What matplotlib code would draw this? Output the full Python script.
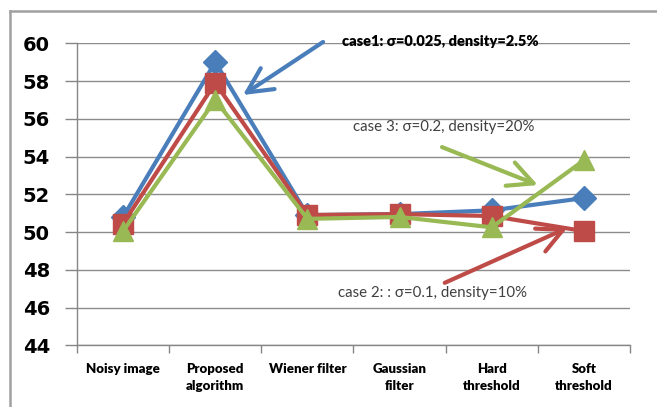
import matplotlib
matplotlib.use("Agg")
import matplotlib.pyplot as plt
from matplotlib.lines import Line2D

categories = ["Noisy image", "Proposed\nalgorithm", "Wiener filter", "Gaussian\nfilter",
              "Hard\nthreshold", "Soft\nthreshold"]
case1 = [50.8, 59.0, 50.9, 50.95, 51.15, 51.8]
case2 = [50.45, 57.9, 50.9, 50.95, 50.85, 50.05]
case3 = [50.05, 57.0, 50.7, 50.8, 50.25, 53.8]
yticks = [44, 46, 48, 50, 52, 54, 56, 58, 60]

BLUE = "#4A7EBB"
RED = "#BE4B48"
GREEN = "#98B954"

fig = plt.figure(figsize=(6.57, 4.07), dpi=100)
ax = fig.add_axes([77/657, 1-345.3/407, (630-77)/657, (345.3-43.3)/407])

x = list(range(len(categories)))
ax.plot(x, case1, color=BLUE, lw=3, marker="D", ms=12, zorder=3)
ax.plot(x, case2, color=RED, lw=3, marker="s", ms=14, zorder=4)
ax.plot(x, case3, color=GREEN, lw=3, marker="^", ms=14, zorder=5)

ax.set_xlim(-0.5, 5.5)
ax.set_ylim(44, 60)
ax.set_yticks(yticks)
ax.set_yticklabels([str(v) for v in yticks], fontsize=14, fontweight="bold",
                   family="DejaVu Sans")
ax.set_xticks(x)
ax.set_xticklabels(categories, fontsize=9.5, fontweight="heavy", family="Lato",
                   linespacing=1.45, va="top")
ax.set_xticks([i - 0.5 for i in range(len(categories) + 1)], minor=True)
ax.tick_params(axis="x", which="major", length=0, pad=13)
ax.tick_params(axis="x", which="minor", length=6, color="#868686", width=1)
ax.tick_params(axis="y", length=9, color="#868686", width=1, pad=10.5)
ax.grid(axis="y", color="#8c8c8c", lw=1)
ax.set_axisbelow(True)
for s in ["top", "right"]:
    ax.spines[s].set_visible(False)
for s in ["left", "bottom"]:
    ax.spines[s].set_color("#868686")
    ax.spines[s].set_linewidth(1)

def arrow(color, tail, tip):
    ax.annotate("", xy=tip, xytext=tail, xycoords="data", textcoords="data",
                arrowprops=dict(arrowstyle="->,head_length=0.9,head_width=0.45",
                                color=color, lw=3, mutation_scale=20,
                                shrinkA=0, shrinkB=0), zorder=6)

arrow(BLUE, (2.17, 60.07), (1.30, 57.26))
arrow(GREEN, (3.46, 54.5), (4.50, 52.49))
arrow(RED, (3.49, 47.31), (4.82, 50.22))

ax.text(2.375, 60.07, "case1: σ=0.025, density=2.5%", fontsize=10.5, fontweight="heavy",
        family="Lato", va="center", ha="left", color="black", zorder=7)
ax.text(2.495, 55.57, "case 3: σ=0.2, density=20%", fontsize=10.8,
        family="Lato", va="center", ha="left", color="#404040", zorder=7)
ax.text(2.33, 46.75, "case 2: : σ=0.1, density=10%", fontsize=10.8,
        family="Lato", va="center", ha="left", color="#404040", zorder=7)

# outer frame (left and top edges visible)
fig.add_artist(Line2D([10/657, 10/657], [0, 1-11/407], transform=fig.transFigure,
                      color="#a0a0a0", lw=1.8))
fig.add_artist(Line2D([10/657, 1], [1-11/407, 1-11/407], transform=fig.transFigure,
                      color="#a0a0a0", lw=1.8))

fig.savefig("out.png", dpi=100)
